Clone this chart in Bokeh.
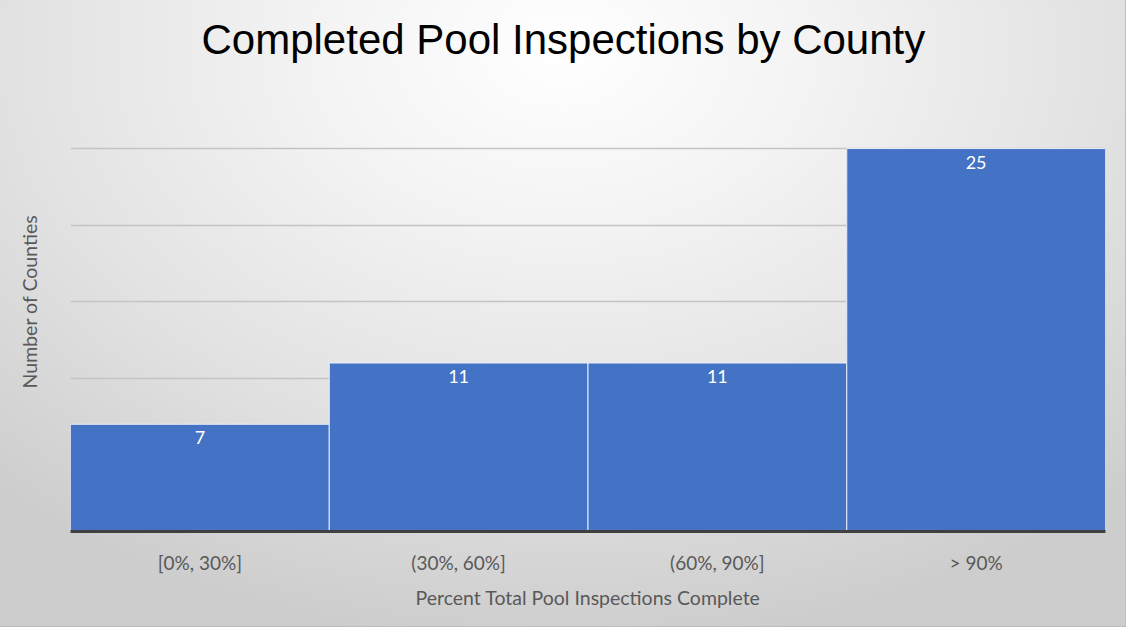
from bokeh.plotting import figure
from bokeh.models import ColumnDataSource, LabelSet, FixedTicker
from bokeh.core.properties import value
from bokeh.embed import file_html
from bokeh.resources import INLINE

categories = ["[0%, 30%]", "(30%, 60%]", "(60%, 90%]", "> 90%"]
counts = [7, 11, 11, 25]
grid_ticks = [5, 10, 15, 20, 25]

title_text = "Completed Pool Inspections by County"
x_title = "Percent Total Pool Inspections Complete"
y_title = "Number of Counties"

src = ColumnDataSource(dict(cat=categories, count=counts,
                            lbl=[str(c) for c in counts]))

p = figure(x_range=categories, y_range=(0, 30.03), width=1125, height=626,
           output_backend="svg", toolbar_location=None, tools="",
           min_border_left=70, min_border_right=20, min_border_top=71,
           min_border_bottom=95, title=title_text)
p.styles = {"background": "radial-gradient(ellipse 75% 95% at 50% 8%, #ffffff 0%, #f3f3f3 30%, #e2e2e2 65%, #cdcdcd 100%)",
            "outline": "1px solid #bdbdbd"}
p.background_fill_alpha = 0
p.border_fill_alpha = 0
p.outline_line_color = None
p.x_range.range_padding = 0

p.title.align = "left"
p.title.text_font = "Liberation Sans"
p.title.text_font_size = "42px"
p.title.text_font_style = "normal"
p.title.text_color = "#000000"
p.title.offset = 131
p.title.standoff = 18

p.vbar(x="cat", top="count", bottom=0, width=1.0, source=src,
       fill_color="#4472C4", line_color="#e8eef8", line_width=1)

labels = LabelSet(x="cat", y="count", text="lbl", source=src,
                  text_color="white", text_font=value("Lato"),
                  text_font_size="18px", text_align="center",
                  text_baseline="top", y_offset=-7)
p.add_layout(labels)

p.ygrid.ticker = FixedTicker(ticks=grid_ticks)
p.ygrid.grid_line_color = "#c4c4c4"
p.ygrid.grid_line_width = 1.5
p.xgrid.grid_line_color = None

p.yaxis.ticker = FixedTicker(ticks=[])
p.yaxis.major_tick_line_color = None
p.yaxis.minor_tick_line_color = None
p.yaxis.axis_line_color = None
p.yaxis.axis_label = y_title
p.yaxis.axis_label_text_font = "Lato"
p.yaxis.axis_label_text_font_size = "19.5px"
p.yaxis.axis_label_text_font_style = "normal"
p.yaxis.axis_label_text_color = "#595959"
p.yaxis.axis_label_standoff = 30

p.xaxis.axis_line_color = "#404040"
p.xaxis.axis_line_width = 3
p.xaxis.major_tick_line_color = None
p.xaxis.minor_tick_line_color = None
p.xaxis.major_label_text_font = "Lato"
p.xaxis.major_label_text_font_size = "19px"
p.xaxis.major_label_text_color = "#595959"
p.xaxis.major_label_standoff = 13
p.xaxis.axis_label = x_title
p.xaxis.axis_label_text_font = "Lato"
p.xaxis.axis_label_text_font_size = "19.5px"
p.xaxis.axis_label_text_font_style = "normal"
p.xaxis.axis_label_text_color = "#595959"
p.xaxis.axis_label_standoff = 9

open("out.html", "w").write(file_html(p, INLINE))
